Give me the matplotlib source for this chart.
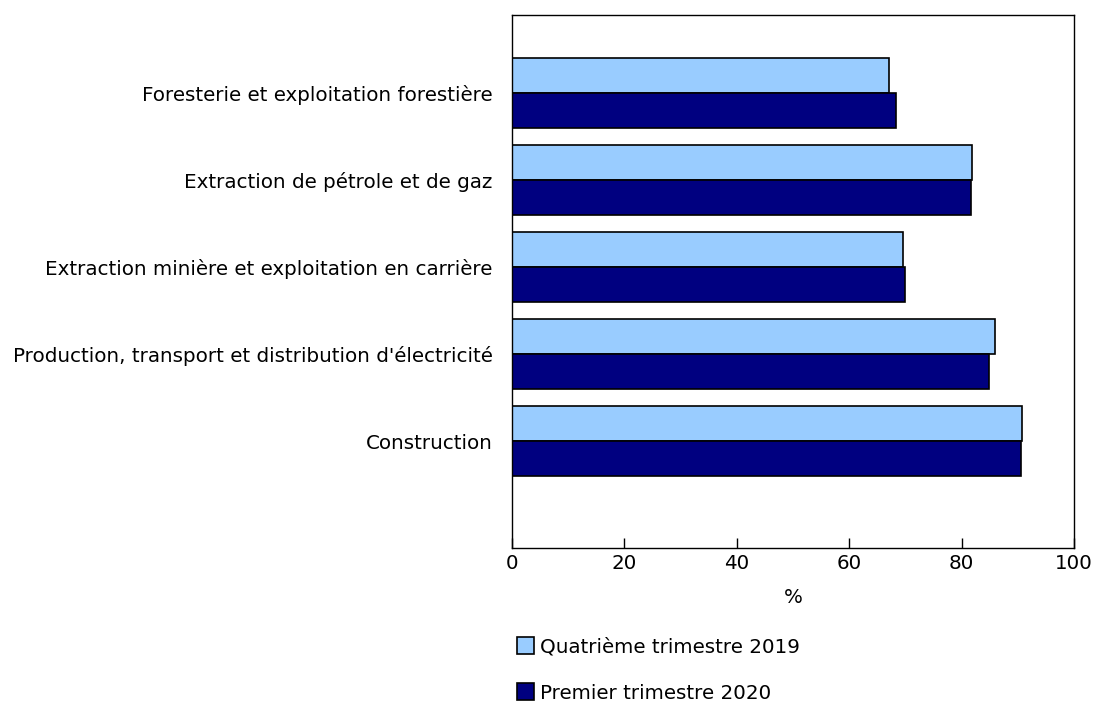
import numpy as np
import matplotlib.pyplot as plt

categories = ["Foresterie et exploitation forestière",
              "Extraction de pétrole et de gaz",
              "Extraction minière et exploitation en carrière",
              "Production, transport et distribution d'électricité",
              "Construction"]
q4_2019 = [67.1, 81.9, 69.5, 85.9, 90.8]
q1_2020 = [68.3, 81.6, 70.0, 84.8, 90.6]
series_labels = ["Quatrième trimestre 2019", "Premier trimestre 2020"]
xticks = [0, 20, 40, 60, 80, 100]

plt.rcParams['font.family'] = ['DejaVu Sans']
fs = 14.3
fig = plt.figure(figsize=(10.93, 7.06), dpi=100)
ax = fig.add_axes([512/1093, 1-548/706, (1074-512)/1093, (548-15)/706])

y = np.arange(len(categories))
h = 0.4
b1 = ax.barh(y - h/2, q4_2019, height=h, color='#99CCFF', edgecolor='black', linewidth=1.2, label=series_labels[0])
b2 = ax.barh(y + h/2, q1_2020, height=h, color='#000080', edgecolor='black', linewidth=1.2, label=series_labels[1])

ax.set_ylim(len(categories) - 1 + 1.23, -0.9)
ax.set_xlim(0, 100)
ax.set_xticks(xticks)
ax.set_xticklabels([str(t) for t in xticks], fontsize=fs)
ax.set_yticks(y)
ax.set_yticklabels(categories, fontsize=fs)
ax.tick_params(axis='y', length=0, pad=14)
ax.tick_params(axis='x', direction='in', length=7, width=1, pad=4)
for s in ax.spines.values():
    s.set_linewidth(1)
    s.set_color('black')
ax.set_xlabel('%', fontsize=fs, labelpad=11)

ax.legend(handles=[b1, b2], loc='upper left', bbox_to_anchor=(-0.005, -0.152),
          frameon=False, fontsize=fs, handlelength=0.85, handleheight=0.95,
          handletextpad=0.3, labelspacing=1.35, borderaxespad=0)

fig.savefig('out.png', dpi=100)
